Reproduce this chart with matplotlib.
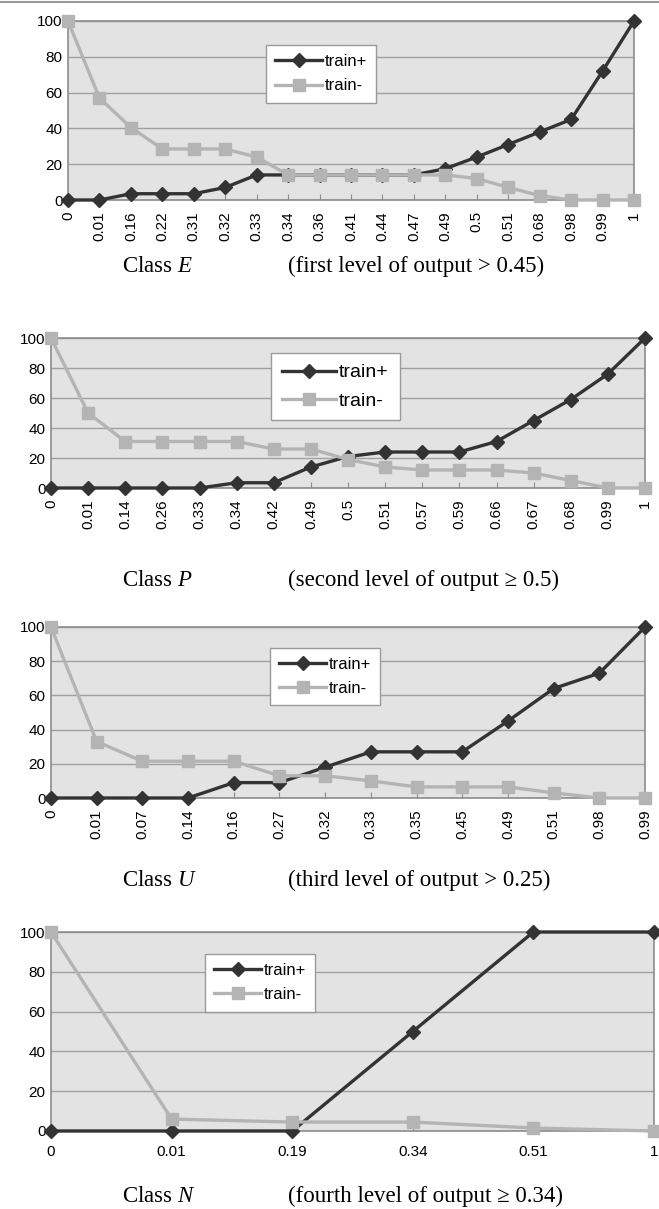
"""Train+ / train- curves per class, four stacked Excel-style line charts."""

import matplotlib
matplotlib.use("Agg")
import matplotlib.pyplot as plt
from matplotlib.lines import Line2D

W, H = 659, 1209

# Class E
E_LABELS = ["0", "0.01", "0.16", "0.22", "0.31", "0.32", "0.33", "0.34", "0.36", "0.41",
            "0.44", "0.47", "0.49", "0.5", "0.51", "0.68", "0.98", "0.99", "1"]
E_POS = [0, 0, 3.5, 3.5, 3.5, 7, 14, 14, 14, 14, 14, 14, 17.5, 24, 31, 38, 45, 72, 100]
E_NEG = [100, 57, 40.5, 28.5, 28.5, 28.5, 24, 14, 14, 14, 14, 14, 14, 12, 7, 2.5, 0, 0, 0]

# Class P
P_LABELS = ["0", "0.01", "0.14", "0.26", "0.33", "0.34", "0.42", "0.49", "0.5", "0.51",
            "0.57", "0.59", "0.66", "0.67", "0.68", "0.99", "1"]
P_POS = [0, 0, 0, 0, 0, 3.5, 3.5, 14, 21, 24, 24, 24, 31, 45, 59, 76, 100]
P_NEG = [100, 50, 31, 31, 31, 31, 26, 26, 19, 14, 12, 12, 12, 10, 5, 0, 0]

# Class U
U_LABELS = ["0", "0.01", "0.07", "0.14", "0.16", "0.27", "0.32", "0.33", "0.35", "0.45",
            "0.49", "0.51", "0.98", "0.99"]
U_POS = [0, 0, 0, 0, 9, 9, 18, 27, 27, 27, 45, 64, 73, 100]
U_NEG = [100, 33, 21.5, 21.5, 21.5, 13, 13, 10, 6.5, 6.5, 6.5, 3, 0, 0]

# Class N
N_LABELS = ["0", "0.01", "0.19", "0.34", "0.51", "1"]
N_POS = [0, 0, 0, 50, 100, 100]
N_NEG = [100, 6, 4.5, 4.5, 1.5, 0]

CAPTIONS = [
    ("E", "(first level of output > 0.45)"),
    ("P", "(second level of output \u2265 0.5)"),
    ("U", "(third level of output > 0.25)"),
    ("N", "(fourth level of output \u2265 0.34)"),
]

DARK = "#333333"
LIGHT = "#b4b4b4"
BG = "#e3e3e3"

plt.rcParams["font.family"] = ["Liberation Sans", "DejaVu Sans"]
plt.rcParams["mathtext.fontset"] = "custom"
plt.rcParams["mathtext.rm"] = "Liberation Serif"
plt.rcParams["mathtext.it"] = "Liberation Serif:italic"


def px_box(left, right, top, bottom):
    """Pixel box -> figure fraction rect."""
    return [left / W, 1 - bottom / H, (right - left) / W, (bottom - top) / H]


def draw_panel(fig, rect, labels, pos, neg, rotate, legend_xy, legend_fs):
    ax = fig.add_axes(rect)
    ax.set_facecolor(BG)
    x = range(len(labels))
    ax.plot(x, pos, color=DARK, lw=2.4, marker="D", ms=7, mec=DARK,
            label="train+", clip_on=False, zorder=3)
    ax.plot(x, neg, color=LIGHT, lw=2.4, marker="s", ms=8, mec=LIGHT,
            label="train-", clip_on=False, zorder=4)
    ax.set_xlim(0, len(labels) - 1)
    ax.set_ylim(0, 100)
    ax.set_yticks(range(0, 101, 20))
    ax.grid(axis="y", color="#a0a0a0", lw=1)
    ax.set_axisbelow(True)
    for s in ax.spines.values():
        s.set_color("#8c8c8c")
        s.set_linewidth(1.2)
    ax.set_xticks(list(x))
    ax.set_xticklabels(labels, rotation=90 if rotate else 0)
    ax.tick_params(axis="y", length=0, pad=4, labelsize=11)
    ax.tick_params(axis="x", direction="in", length=4, color="#8c8c8c",
                   pad=8 if rotate else 10, labelsize=11)
    ax.legend(loc="upper left", bbox_to_anchor=(legend_xy[0] / W, 1 - legend_xy[1] / H),
              bbox_transform=fig.transFigure, borderaxespad=0, fancybox=False,
              framealpha=1, edgecolor="#9a9a9a", fontsize=legend_fs,
              handlelength=2.8, handletextpad=0.15, labelspacing=0.55,
              borderpad=0.55)
    return ax


def main():
    fig = plt.figure(figsize=(W / 100, H / 100), dpi=100)
    fig.add_artist(Line2D([0, 1], [1 - 1.5 / H] * 2, color="#9a9a9a", lw=1.5,
                          transform=fig.transFigure))

    draw_panel(fig, px_box(68, 634, 21, 200), E_LABELS, E_POS, E_NEG, True, (266, 45), 12)
    draw_panel(fig, px_box(51, 645, 338, 488), P_LABELS, P_POS, P_NEG, True, (271, 353), 14)
    draw_panel(fig, px_box(51, 645, 627, 798), U_LABELS, U_POS, U_NEG, True, (270, 648), 12)
    draw_panel(fig, px_box(51, 654, 932, 1131), N_LABELS, N_POS, N_NEG, False, (205, 954), 12)

    cap_y = [266, 580, 880, 1196]
    for (letter, desc), y in zip(CAPTIONS, cap_y):
        fig.text(122 / W, 1 - y / H, f"Class ${letter}$", family="Liberation Serif",
                 fontsize=16.5, va="center", ha="left")
        fig.text(288 / W, 1 - y / H, desc, family="Liberation Serif",
                 fontsize=16.5, va="center", ha="left")

    fig.savefig("out.png", dpi=100)
    plt.close(fig)


if __name__ == "__main__":
    main()
